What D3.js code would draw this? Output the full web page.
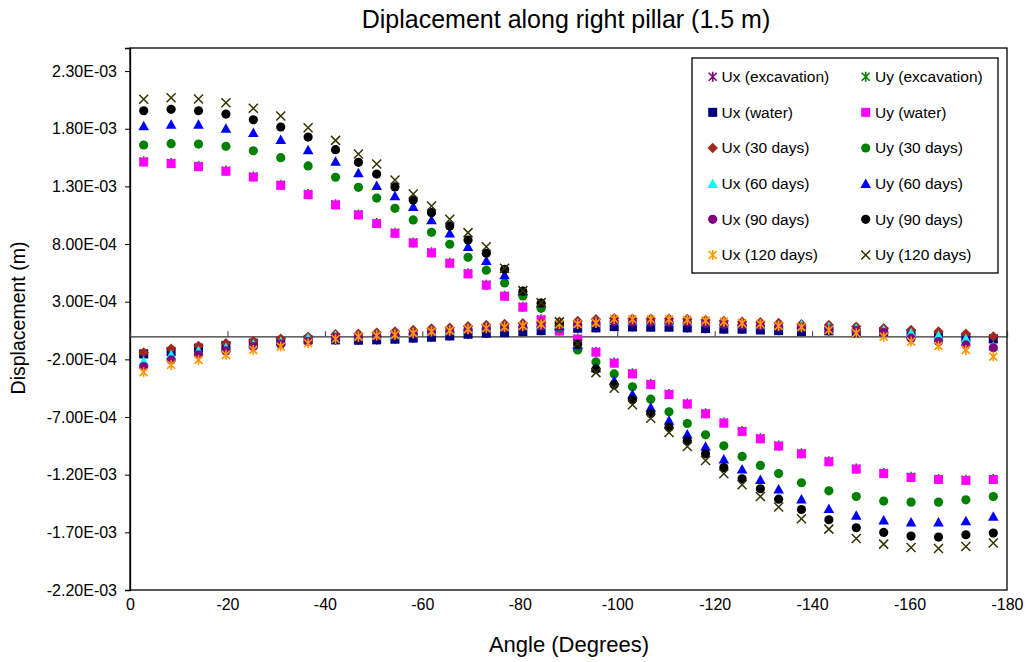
<!DOCTYPE html>
<html><head><meta charset="utf-8">
<script src="https://cdn.jsdelivr.net/npm/d3@7"></script>
<style>body{margin:0;background:#fff} text{font-family:Arial,"Liberation Sans",sans-serif}</style>
</head><body><svg id="c" width="1027" height="662"></svg>
<script>
// Angles (degrees)
const angles = [-2.81,-8.44,-14.06,-19.69,-25.31,-30.94,-36.56,-42.19,-46.88,-50.63,-54.38,-58.13,-61.88,-65.63,-69.38,-73.13,-76.88,-80.63,-84.38,-88.13,-91.88,-95.63,-99.38,-103.13,-106.88,-110.63,-114.38,-118.13,-121.88,-125.63,-129.38,-133.13,-137.81,-143.44,-149.06,-154.69,-160.31,-165.94,-171.56,-177.19];
// Displacements in units of 1E-03 m
const uxExc   = [-0.150,-0.130,-0.100,-0.078,-0.058,-0.044,-0.029,-0.029,-0.031,-0.028,-0.022,-0.013,-0.005,0.006,0.020,0.029,0.035,0.044,0.052,0.063,0.073,0.076,0.087,0.084,0.082,0.082,0.076,0.070,0.065,0.064,0.058,0.052,0.044,0.048,0.032,0.040,0.022,-0.003,-0.008,-0.020];
const uyExc   = [1.517,1.503,1.477,1.437,1.386,1.314,1.233,1.144,1.057,0.982,0.898,0.814,0.728,0.638,0.546,0.448,0.352,0.257,0.147,0.050,-0.020,-0.133,-0.228,-0.321,-0.414,-0.500,-0.583,-0.667,-0.748,-0.821,-0.884,-0.947,-1.014,-1.083,-1.147,-1.185,-1.219,-1.237,-1.245,-1.237];
const uxWater = [-0.153,-0.133,-0.103,-0.081,-0.060,-0.046,-0.031,-0.031,-0.034,-0.031,-0.025,-0.016,-0.008,0.003,0.018,0.027,0.032,0.041,0.049,0.060,0.070,0.073,0.084,0.081,0.079,0.079,0.073,0.067,0.062,0.062,0.055,0.049,0.041,0.047,0.029,0.041,0.021,-0.005,-0.010,-0.023];
const uyWater = [1.511,1.497,1.471,1.431,1.381,1.309,1.228,1.139,1.052,0.977,0.893,0.809,0.723,0.633,0.541,0.443,0.347,0.252,0.142,0.045,-0.025,-0.138,-0.233,-0.326,-0.419,-0.505,-0.588,-0.672,-0.753,-0.826,-0.889,-0.952,-1.019,-1.088,-1.152,-1.190,-1.224,-1.242,-1.250,-1.242];
const ux30    = [-0.141,-0.107,-0.083,-0.060,-0.040,-0.020,-0.003,0.018,0.023,0.032,0.041,0.055,0.067,0.075,0.087,0.099,0.107,0.113,0.119,0.126,0.133,0.148,0.157,0.153,0.153,0.153,0.151,0.142,0.133,0.127,0.122,0.116,0.105,0.099,0.084,0.070,0.055,0.041,0.022,-0.001];
const uy30    = [1.659,1.670,1.667,1.647,1.609,1.549,1.477,1.379,1.292,1.199,1.110,1.009,0.902,0.798,0.685,0.573,0.463,0.350,0.243,0.070,-0.118,-0.222,-0.326,-0.438,-0.545,-0.655,-0.756,-0.854,-0.950,-1.042,-1.120,-1.190,-1.270,-1.340,-1.389,-1.429,-1.438,-1.438,-1.418,-1.389];
const ux60    = [-0.219,-0.161,-0.127,-0.098,-0.068,-0.046,-0.016,0.006,0.003,0.012,0.021,0.035,0.047,0.055,0.067,0.079,0.087,0.093,0.099,0.106,0.113,0.126,0.135,0.133,0.133,0.132,0.130,0.122,0.113,0.107,0.101,0.095,0.099,0.084,0.070,0.055,0.030,0.005,-0.023,-0.089];
const uy60    = [1.823,1.838,1.838,1.803,1.765,1.705,1.615,1.517,1.416,1.306,1.217,1.124,1.009,0.893,0.777,0.656,0.532,0.393,0.289,0.090,-0.075,-0.274,-0.386,-0.502,-0.618,-0.730,-0.848,-0.956,-1.065,-1.152,-1.244,-1.325,-1.412,-1.496,-1.554,-1.594,-1.611,-1.611,-1.602,-1.562];
const ux90    = [-0.263,-0.205,-0.161,-0.127,-0.089,-0.068,-0.046,-0.011,-0.007,0.002,0.011,0.025,0.037,0.045,0.057,0.069,0.077,0.083,0.089,0.096,0.103,0.118,0.127,0.123,0.123,0.123,0.121,0.112,0.103,0.097,0.090,0.082,0.079,0.062,0.049,0.032,-0.016,-0.046,-0.075,-0.100];
const uy90    = [1.956,1.968,1.956,1.927,1.878,1.815,1.728,1.618,1.509,1.407,1.295,1.182,1.072,0.957,0.835,0.720,0.581,0.391,0.287,0.114,-0.068,-0.285,-0.421,-0.551,-0.670,-0.788,-0.906,-1.019,-1.138,-1.236,-1.322,-1.412,-1.502,-1.591,-1.660,-1.701,-1.732,-1.741,-1.721,-1.706];
const ux120   = [-0.311,-0.248,-0.205,-0.161,-0.118,-0.089,-0.060,-0.023,-0.003,0.006,0.012,0.027,0.041,0.049,0.062,0.070,0.079,0.090,0.105,0.106,0.107,0.116,0.150,0.148,0.148,0.148,0.142,0.136,0.127,0.114,0.107,0.090,0.079,0.055,0.027,-0.003,-0.046,-0.083,-0.118,-0.176];
const uy120   = [2.055,2.068,2.057,2.025,1.977,1.910,1.808,1.699,1.581,1.494,1.355,1.234,1.130,1.015,0.899,0.777,0.590,0.396,0.292,0.125,-0.065,-0.315,-0.450,-0.594,-0.710,-0.834,-0.956,-1.077,-1.192,-1.288,-1.389,-1.481,-1.582,-1.672,-1.753,-1.802,-1.831,-1.840,-1.822,-1.793];

const seriesNames = ["Ux (excavation)","Uy (excavation)","Ux (water)","Uy (water)","Ux (30 days)","Uy (30 days)","Ux (60 days)","Uy (60 days)","Ux (90 days)","Uy (90 days)","Ux (120 days)","Uy (120 days)"];
const seriesValues = [uxExc,uyExc,uxWater,uyWater,ux30,uy30,ux60,uy60,ux90,uy90,ux120,uy120];
const seriesColors = ["#800080","#008000","#000080","#FF00FF","#A0281E","#008000","#00FFFF","#0000FF","#800080","#000000","#FF9900","#333300"];
const seriesShapes = ["asterisk","asterisk","square","square","diamond","circle","triangle","triangle","circle","circle","asterisk","x"];

const xTicks = [0,-20,-40,-60,-80,-100,-120,-140,-160,-180];
const xTickLabels = ["0","-20","-40","-60","-80","-100","-120","-140","-160","-180"];
const yTicks = [2.3,1.8,1.3,0.8,0.3,-0.2,-0.7,-1.2,-1.7,-2.2];
const yTickLabels = ["2.30E-03","1.80E-03","1.30E-03","8.00E-04","3.00E-04","-2.00E-04","-7.00E-04","-1.20E-03","-1.70E-03","-2.20E-03"];

const L=130, R=1007, T=48, B=590;
const svg = d3.select("#c");
const x = d3.scaleLinear().domain([0,-180]).range([L,R]);
const y = d3.scaleLinear().domain([-2.2,2.5]).range([B,T]);

// title
svg.append("text").attr("x",566).attr("y",28).attr("text-anchor","middle")
  .style("font-size","25px").text("Diplacement along right pillar (1.5 m)");

// plot border
svg.append("rect").attr("x",L).attr("y",T).attr("width",R-L).attr("height",B-T)
  .attr("fill","none").attr("stroke","#000").attr("stroke-width",1.3);

// y axis
const yAx = svg.append("g").attr("transform",`translate(${L},0)`)
  .call(d3.axisLeft(y).tickValues(yTicks).tickSize(5).tickPadding(8)
    .tickFormat((d,i)=>yTickLabels[i]));
yAx.select(".domain").attr("stroke","#000").attr("stroke-width",1.3);
yAx.selectAll("text").style("font-size","16px").style("font-family","Arial,'Liberation Sans',sans-serif").attr("fill","#000");

// zero line with ticks
const zAx = svg.append("g").attr("transform",`translate(0,${y(0)})`)
  .call(d3.axisBottom(x).tickValues(xTicks).tickSize(-5).tickFormat(""));
zAx.select(".domain").attr("stroke","#333").attr("stroke-width",1.2);
zAx.selectAll("line").attr("stroke","#333");

// x labels at bottom
const xl = svg.append("g").attr("transform",`translate(0,${B})`)
  .call(d3.axisBottom(x).tickValues(xTicks).tickSize(0).tickPadding(9)
    .tickFormat((d,i)=>xTickLabels[i]));
xl.select(".domain").remove();
xl.selectAll("text").style("font-size","16px").style("font-family","Arial,'Liberation Sans',sans-serif").attr("fill","#000");

// axis titles
svg.append("text").attr("transform","translate(25,318) rotate(-90)").attr("text-anchor","middle")
  .style("font-size","19.5px").text("Displacement (m)");
svg.append("text").attr("x",569).attr("y",652).attr("text-anchor","middle")
  .style("font-size","22px").text("Angle (Degrees)");

function marker(g, shape, color){
  if(shape==="square") g.append("rect").attr("x",-4.5).attr("y",-4.5).attr("width",9).attr("height",9).attr("fill",color);
  else if(shape==="circle") g.append("circle").attr("r",4.6).attr("fill",color);
  else if(shape==="diamond") g.append("path").attr("d","M0,-5.2L5.2,0L0,5.2L-5.2,0Z").attr("fill",color);
  else if(shape==="triangle") g.append("path").attr("d","M0,-5.2L5.3,4.3L-5.3,4.3Z").attr("fill",color);
  else if(shape==="asterisk") g.append("path").attr("d","M-4,-4L4,4M-4,4L4,-4M0,-5L0,5").attr("stroke",color).attr("stroke-width",1.6).attr("fill","none");
  else if(shape==="x") g.append("path").attr("d","M-4.5,-4.5L4.5,4.5M-4.5,4.5L4.5,-4.5").attr("stroke",color).attr("stroke-width",1.5).attr("fill","none");
}

const plot = svg.append("g");
seriesValues.forEach((vals,si)=>{
  const sg = plot.append("g");
  vals.forEach((v,i)=>{
    const g = sg.append("g").attr("transform",`translate(${x(angles[i])},${y(v)})`);
    marker(g, seriesShapes[si], seriesColors[si]);
  });
});

// legend
const lg = svg.append("g");
lg.append("rect").attr("x",692).attr("y",58).attr("width",306).attr("height",215)
  .attr("fill","#fff").attr("stroke","#000").attr("stroke-width",1.3);
seriesNames.forEach((n,i)=>{
  const col = i%2, row = Math.floor(i/2);
  const mx = col===0?712.7:865.7, tx = col===0?721.5:875;
  const yy = 76.7 + row*35.65;
  const g = lg.append("g").attr("transform",`translate(${mx},${yy})`);
  marker(g, seriesShapes[i], seriesColors[i]);
  lg.append("text").attr("x",tx).attr("y",yy).attr("dy","0.35em").style("font-size","15.5px").text(n);
});
</script></body></html>
